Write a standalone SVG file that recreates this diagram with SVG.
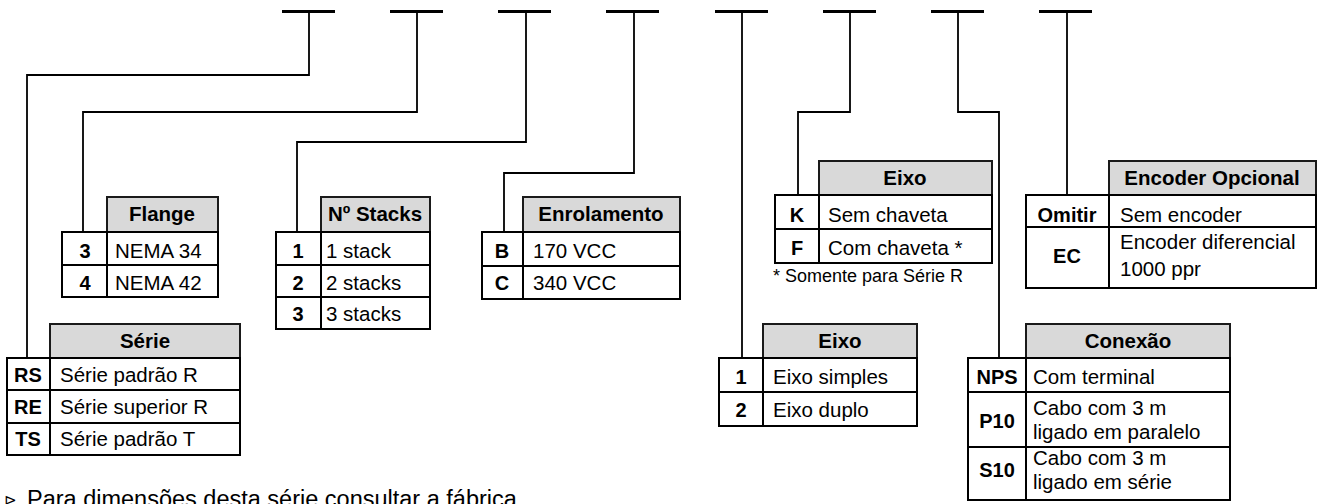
<svg xmlns="http://www.w3.org/2000/svg" width="1318" height="504" viewBox="0 0 1318 504">
<style>
.bar{stroke:#000;stroke-width:3;fill:none}
.con{stroke:#000;stroke-width:1.8;fill:none}
.hd{fill:#d9d9d9;stroke:#1a1a1a;stroke-width:2}
.bd{fill:#fff;stroke:#000;stroke-width:2}
.ln{stroke:#000;stroke-width:2}
text{font-family:"Liberation Sans",Arial,sans-serif;fill:#000}
.h{font-size:20.5px;font-weight:bold;text-anchor:middle}
.k{font-size:20px;font-weight:bold;text-anchor:middle}
.t{font-size:20.5px}
.f{font-size:18px}
.n{font-size:23.5px}
.tri{font-family:"DejaVu Sans",sans-serif;font-size:15px}
</style>
<rect width="1318" height="504" fill="#fff"/>
<g id="connectors">
<line class="bar" x1="282" y1="11.5" x2="335" y2="11.5"/>
<line class="bar" x1="390" y1="11.5" x2="443" y2="11.5"/>
<line class="bar" x1="498" y1="11.5" x2="551" y2="11.5"/>
<line class="bar" x1="606" y1="11.5" x2="659" y2="11.5"/>
<line class="bar" x1="715" y1="11.5" x2="768" y2="11.5"/>
<line class="bar" x1="823" y1="11.5" x2="876" y2="11.5"/>
<line class="bar" x1="931" y1="11.5" x2="984" y2="11.5"/>
<line class="bar" x1="1039" y1="11.5" x2="1092" y2="11.5"/>
<polyline class="con" points="309,12 309,75 27,75 27,358"/>
<polyline class="con" points="417,12 417,112 83,112 83,232"/>
<polyline class="con" points="526,12 526,142 297,142 297,232"/>
<polyline class="con" points="634,12 634,173 504,173 504,232"/>
<polyline class="con" points="742,12 742,358"/>
<polyline class="con" points="850,12 850,112 798,112 798,195"/>
<polyline class="con" points="958,12 958,112 999,112 999,358"/>
<polyline class="con" points="1067,12 1067,195"/>
</g>
<g id="flange">
<rect class="hd" x="107" y="197" width="111" height="35"/>
<rect class="bd" x="62" y="232" width="156" height="65"/>
<line class="ln" x1="62" y1="265" x2="218" y2="265"/>
<line class="ln" x1="107" y1="232" x2="107" y2="297"/>
<text class="h" x="162" y="221">Flange</text>
<text class="k" x="85" y="258">3</text><text class="t" x="115" y="258">NEMA 34</text>
<text class="k" x="85" y="290">4</text><text class="t" x="115" y="290">NEMA 42</text>
</g>
<g id="stacks">
<rect class="hd" x="321" y="197" width="109" height="35"/>
<rect class="bd" x="276" y="232" width="154" height="97"/>
<line class="ln" x1="276" y1="265" x2="430" y2="265"/>
<line class="ln" x1="276" y1="297" x2="430" y2="297"/>
<line class="ln" x1="321" y1="232" x2="321" y2="329"/>
<text class="h" x="375" y="221">Nº Stacks</text>
<text class="k" x="298" y="258">1</text><text class="t" x="326" y="258">1 stack</text>
<text class="k" x="298" y="290">2</text><text class="t" x="326" y="290">2 stacks</text>
<text class="k" x="298" y="321">3</text><text class="t" x="326" y="321">3 stacks</text>
</g>
<g id="enrolamento">
<rect class="hd" x="523" y="197" width="157" height="35"/>
<rect class="bd" x="482" y="232" width="198" height="67"/>
<line class="ln" x1="482" y1="266" x2="680" y2="266"/>
<line class="ln" x1="523" y1="232" x2="523" y2="299"/>
<text class="h" x="601" y="221">Enrolamento</text>
<text class="k" x="502" y="258">B</text><text class="t" x="533" y="258">170 VCC</text>
<text class="k" x="502" y="290">C</text><text class="t" x="533" y="290">340 VCC</text>
</g>
<g id="eixo-chaveta">
<rect class="hd" x="819" y="161" width="173" height="34"/>
<rect class="bd" x="775" y="195" width="217" height="68"/>
<line class="ln" x1="775" y1="229" x2="992" y2="229"/>
<line class="ln" x1="819" y1="195" x2="819" y2="263"/>
<text class="h" x="905" y="185">Eixo</text>
<text class="k" x="797" y="222">K</text><text class="t" x="828" y="222">Sem chaveta</text>
<text class="k" x="797" y="255">F</text><text class="t" x="828" y="255">Com chaveta *</text>
<text class="f" x="773" y="282">* Somente para Série R</text>
</g>
<g id="encoder">
<rect class="hd" x="1109" y="161" width="207" height="34"/>
<rect class="bd" x="1026" y="195" width="290" height="93"/>
<line class="ln" x1="1026" y1="227" x2="1316" y2="227"/>
<line class="ln" x1="1109" y1="195" x2="1109" y2="288"/>
<text class="h" x="1212" y="185">Encoder Opcional</text>
<text class="k" x="1067" y="222">Omitir</text><text class="t" x="1120" y="222">Sem encoder</text>
<text class="k" x="1067" y="263">EC</text>
<text class="t" x="1120" y="249">Encoder diferencial</text>
<text class="t" x="1120" y="276">1000 ppr</text>
</g>
<g id="serie">
<rect class="hd" x="50" y="324" width="190" height="34"/>
<rect class="bd" x="7" y="358" width="233" height="97"/>
<line class="ln" x1="7" y1="390" x2="240" y2="390"/>
<line class="ln" x1="7" y1="423" x2="240" y2="423"/>
<line class="ln" x1="50" y1="358" x2="50" y2="455"/>
<text class="h" x="145" y="348">Série</text>
<text class="k" x="28" y="382">RS</text><text class="t" x="60" y="382">Série padrão R</text>
<text class="k" x="28" y="414">RE</text><text class="t" x="60" y="414">Série superior R</text>
<text class="k" x="28" y="446">TS</text><text class="t" x="60" y="446">Série padrão T</text>
</g>
<g id="eixo-tipo">
<rect class="hd" x="763" y="324" width="154" height="34"/>
<rect class="bd" x="719" y="358" width="198" height="68"/>
<line class="ln" x1="719" y1="392" x2="917" y2="392"/>
<line class="ln" x1="763" y1="358" x2="763" y2="426"/>
<text class="h" x="840" y="348">Eixo</text>
<text class="k" x="741" y="384">1</text><text class="t" x="773" y="384">Eixo simples</text>
<text class="k" x="741" y="417">2</text><text class="t" x="773" y="417">Eixo duplo</text>
</g>
<g id="conexao">
<rect class="hd" x="1026" y="324" width="204" height="34"/>
<rect class="bd" x="968" y="358" width="262" height="142"/>
<line class="ln" x1="968" y1="392" x2="1230" y2="392"/>
<line class="ln" x1="968" y1="447" x2="1230" y2="447"/>
<line class="ln" x1="1026" y1="358" x2="1026" y2="500"/>
<text class="h" x="1128" y="348">Conexão</text>
<text class="k" x="997" y="384">NPS</text><text class="t" x="1033" y="384">Com terminal</text>
<text class="k" x="997" y="428">P10</text>
<text class="t" x="1033" y="415">Cabo com 3 m</text>
<text class="t" x="1033" y="439">ligado em paralelo</text>
<text class="k" x="997" y="477">S10</text>
<text class="t" x="1033" y="465">Cabo com 3 m</text>
<text class="t" x="1033" y="489">ligado em série</text>
</g>
<g id="note">
<text class="tri" x="4" y="505">⊳</text>
<text class="n" x="27" y="507">Para dimensões desta série consultar a fábrica</text>
</g>
</svg>
